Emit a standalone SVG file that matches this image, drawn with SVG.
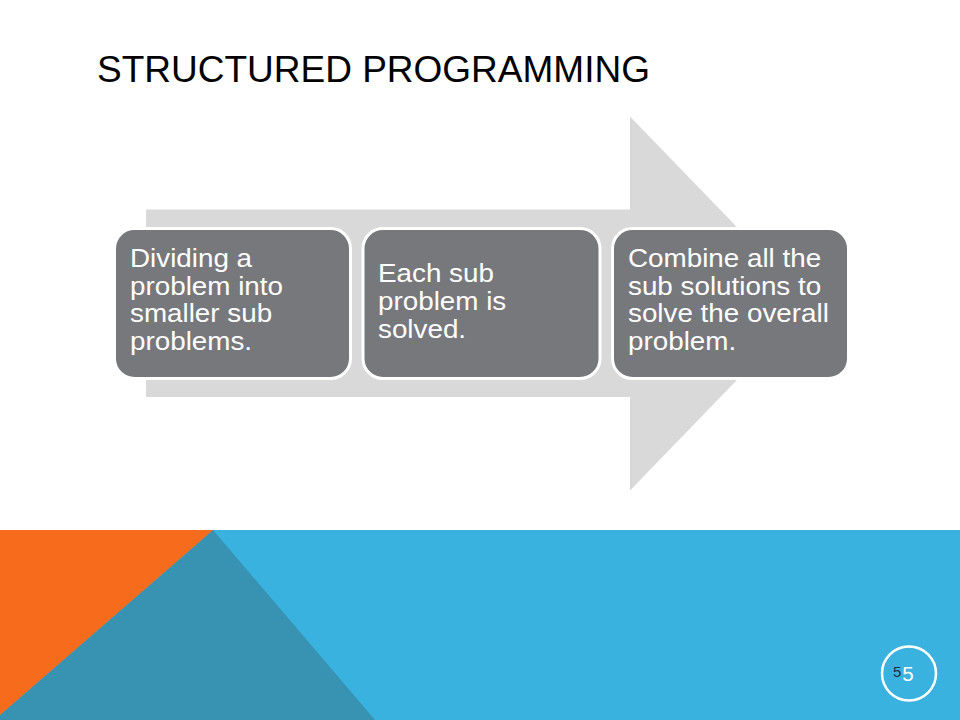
<svg xmlns="http://www.w3.org/2000/svg" width="960" height="720" viewBox="0 0 960 720">
<style>
.title{font-family:"Liberation Sans",Arial,sans-serif;font-size:37px;fill:#000}
.box{fill:#77787c;stroke:#ffffff;stroke-width:3}
.lbl{font-family:"Liberation Sans",Arial,sans-serif;font-size:26px;fill:#ffffff}
.arrow{fill:#d9d9d9}
</style>
<rect x="0" y="0" width="960" height="720" fill="#ffffff"/>
<text class="title" x="97" y="81.5">STRUCTURED PROGRAMMING</text>
<g id="connectors">
<path class="arrow" d="M146,209.5 L630,209.5 L630,116.5 L811,303.5 L630,490.5 L630,397 L146,397 Z"/>
</g>
<g id="node1">
<rect class="box" x="114.5" y="228.5" width="236" height="150" rx="20" ry="20"/>
<g transform="translate(130,0) scale(1.07,1)">
<text class="lbl" x="0" y="267">Dividing a</text>
<text class="lbl" x="0" y="295">problem into</text>
<text class="lbl" x="0" y="322.5">smaller sub</text>
<text class="lbl" x="0" y="350">problems.</text>
</g>
</g>
<g id="node2">
<rect class="box" x="363" y="228.5" width="237" height="150" rx="20" ry="20"/>
<g transform="translate(378,0) scale(1.07,1)">
<text class="lbl" x="0" y="282">Each sub</text>
<text class="lbl" x="0" y="310">problem is</text>
<text class="lbl" x="0" y="338">solved.</text>
</g>
</g>
<g id="node3">
<rect class="box" x="612.5" y="228.5" width="236" height="150" rx="20" ry="20"/>
<g transform="translate(628,0) scale(1.07,1)">
<text class="lbl" x="0" y="267">Combine all the</text>
<text class="lbl" x="0" y="295">sub solutions to</text>
<text class="lbl" x="0" y="322.5">solve the overall</text>
<text class="lbl" x="0" y="350">problem.</text>
</g>
</g>
<g id="footer">
<rect x="0" y="530" width="960" height="190" fill="#3ab2e0"/>
<polygon points="213,530 375,720 0,720 0,715" fill="#3892b2"/>
<polygon points="0,530 213,530 0,715" fill="#f76b1c"/>
<circle cx="909" cy="673.5" r="27" fill="none" stroke="#ffffff" stroke-width="2.5"/>
<text x="893" y="677" font-family="'Liberation Sans',Arial,sans-serif" font-size="15" fill="#1b2f45">5</text>
<text x="908" y="681" font-family="'Liberation Sans',Arial,sans-serif" font-size="20.5" fill="#ffffff" text-anchor="middle">5</text>
</g>
</svg>
